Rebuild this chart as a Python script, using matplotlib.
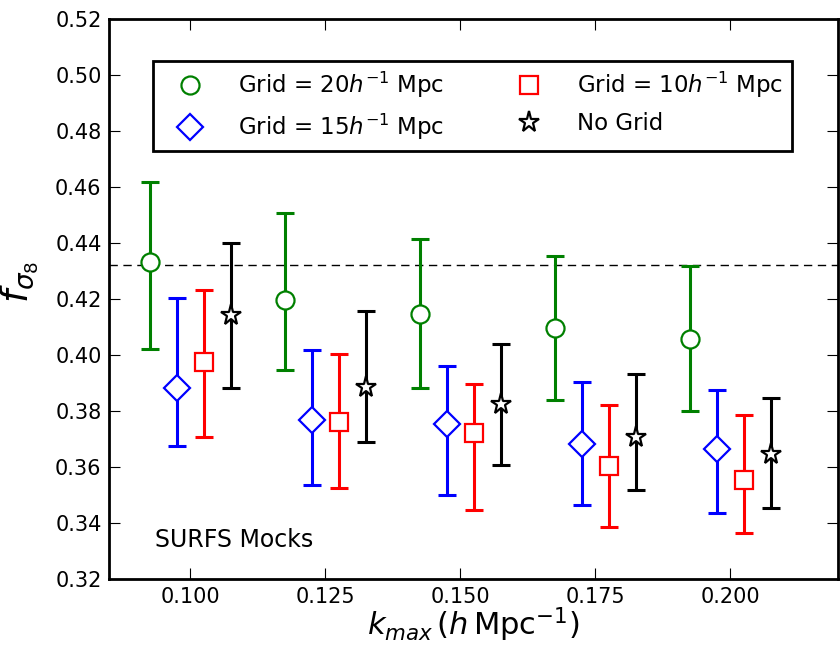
import numpy as np
import matplotlib
matplotlib.use("Agg")
import matplotlib.pyplot as plt

# k_max values and per-series offsets
kmax = np.array([0.100, 0.125, 0.150, 0.175, 0.200])
offsets = [-0.0075, -0.0025, 0.0025, 0.0075]

labels = [r"Grid = $20h^{-1}$ Mpc", r"Grid = $15h^{-1}$ Mpc",
          r"Grid = $10h^{-1}$ Mpc", "No Grid"]
colors = ["green", "blue", "red", "black"]
markers = ["o", "D", "s", "*"]
msizes = [13, 13, 13, 15.5]

# central values
fs8_20 = [0.4331, 0.4197, 0.4146, 0.4095, 0.4056]
fs8_15 = [0.3883, 0.3768, 0.3752, 0.3681, 0.3663]
fs8_10 = [0.3974, 0.3762, 0.3720, 0.3604, 0.3554]
fs8_no = [0.4143, 0.3887, 0.3824, 0.3706, 0.3646]

# upper / lower error bar ends
hi_20 = [0.4617, 0.4506, 0.4415, 0.4354, 0.4317]
lo_20 = [0.4020, 0.3945, 0.3881, 0.3839, 0.3800]
hi_15 = [0.4205, 0.4019, 0.3962, 0.3904, 0.3875]
lo_15 = [0.3674, 0.3535, 0.3500, 0.3466, 0.3435]
hi_10 = [0.4233, 0.4003, 0.3895, 0.3823, 0.3787]
lo_10 = [0.3706, 0.3524, 0.3445, 0.3386, 0.3364]
hi_no = [0.4400, 0.4156, 0.4038, 0.3932, 0.3848]
lo_no = [0.3881, 0.3690, 0.3606, 0.3518, 0.3452]

fiducial = 0.432

centres = [fs8_20, fs8_15, fs8_10, fs8_no]
highs = [hi_20, hi_15, hi_10, hi_no]
lows = [lo_20, lo_15, lo_10, lo_no]

fig = plt.figure(figsize=(8.4, 6.48), dpi=100)
ax = fig.add_axes([0.130, 0.1065, 0.8676, 0.8642])

ax.axhline(fiducial, color="black", linestyle="--", dashes=(6, 4), linewidth=1.0, zorder=1)

for i in range(4):
    x = kmax + offsets[i]
    y = np.array(centres[i])
    yerr = [y - np.array(lows[i]), np.array(highs[i]) - y]
    ax.errorbar(x, y, yerr=yerr, fmt="none", ecolor=colors[i],
                elinewidth=2.2, capsize=6.5, capthick=2.2, zorder=2)
    ax.plot(x, y, linestyle="none", marker=markers[i], markersize=msizes[i],
            markerfacecolor="white", markeredgecolor=colors[i],
            markeredgewidth=1.6, label=labels[i], zorder=3)

ax.set_xlim(0.085, 0.22)
ax.set_ylim(0.32, 0.52)
ax.set_xticks([0.100, 0.125, 0.150, 0.175, 0.200])
ax.set_xticklabels(["0.100", "0.125", "0.150", "0.175", "0.200"])
ax.set_yticks(np.arange(0.32, 0.5201, 0.02))
ax.set_yticklabels(["%.2f" % v for v in np.arange(0.32, 0.5201, 0.02)])
ax.tick_params(direction="in", length=8, width=0.8, labelsize=15,
               top=True, right=True, pad=5.5)
for s in ax.spines.values():
    s.set_linewidth(2)

ax.set_xlabel(r"$k_{max}\,(h\,\mathrm{Mpc}^{-1})$", fontsize=22, labelpad=-1)
ax.set_ylabel(r"$f_{\sigma_8}$", fontsize=27)
ax.yaxis.set_label_coords(-0.094, 0.53)

ax.text(0.063, 0.057, "SURFS Mocks", transform=ax.transAxes, fontsize=17,
        va="baseline")

leg = ax.legend(ncol=2, loc="upper left", bbox_to_anchor=(0.0604, 0.925),
                fontsize=16.5, numpoints=1, fancybox=False, framealpha=1,
                edgecolor="black", columnspacing=2.5, handletextpad=0.9,
                handlelength=2.4, borderpad=0.4, labelspacing=0.5,
                borderaxespad=0)
leg.get_frame().set_linewidth(2)

fig.savefig("out.png", dpi=100)
